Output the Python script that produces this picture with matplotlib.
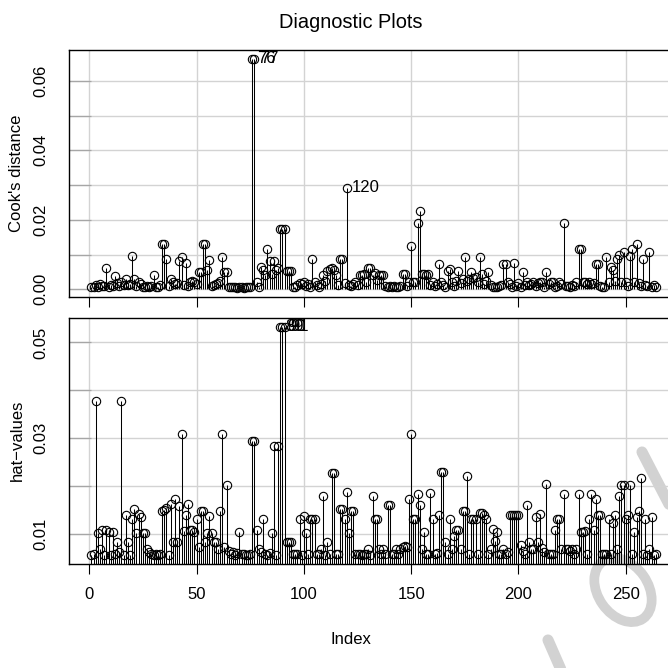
import matplotlib
matplotlib.use("Agg")
import matplotlib.pyplot as plt
from matplotlib.patches import Ellipse
from matplotlib.lines import Line2D
import numpy as np

plt.rcParams['font.family'] = ['Liberation Sans', 'DejaVu Sans']

# Cook's distance per observation (index 1..264)
cooks_d = [
    0.0006, 0.0008, 0.0012, 0.0007, 0.0015, 0.0009, 0.0010, 0.0060, 0.0008, 0.0012,
    0.0010, 0.0039, 0.0018, 0.0009, 0.0022, 0.0013, 0.0030, 0.0011, 0.0016, 0.0096,
    0.0030, 0.0010, 0.0020, 0.0014, 0.0008, 0.0006, 0.0009, 0.0007, 0.0010, 0.0041,
    0.0008, 0.0006, 0.0012, 0.0130, 0.0130, 0.0087, 0.0010, 0.0030, 0.0020, 0.0015,
    0.0018, 0.0082, 0.0094, 0.0012, 0.0075, 0.0010, 0.0022, 0.0025, 0.0020, 0.0015,
    0.0049, 0.0049, 0.0130, 0.0130, 0.0055, 0.0084, 0.0009, 0.0011, 0.0016, 0.0019,
    0.0024, 0.0092, 0.0049, 0.0049, 0.0008, 0.0006, 0.0007, 0.0006, 0.0005, 0.0006,
    0.0006, 0.0005, 0.0006, 0.0007, 0.0006, 0.0663, 0.0663, 0.0020, 0.0008, 0.0065,
    0.0055, 0.0040, 0.0116, 0.0080, 0.0045, 0.0080, 0.0055, 0.0060, 0.0173, 0.0173,
    0.0173, 0.0052, 0.0052, 0.0052, 0.0008, 0.0006, 0.0012, 0.0018, 0.0014, 0.0020,
    0.0009, 0.0016, 0.0007, 0.0088, 0.0020, 0.0012, 0.0008, 0.0014, 0.0040, 0.0024,
    0.0052, 0.0058, 0.0062, 0.0055, 0.0040, 0.0012, 0.0088, 0.0088, 0.0018, 0.0292,
    0.0012, 0.0009, 0.0015, 0.0020, 0.0011, 0.0042, 0.0040, 0.0043, 0.0020, 0.0062,
    0.0062, 0.0040, 0.0046, 0.0026, 0.0042, 0.0042, 0.0040, 0.0009, 0.0008, 0.0010,
    0.0007, 0.0009, 0.0008, 0.0006, 0.0010, 0.0043, 0.0043, 0.0009, 0.0020, 0.0125,
    0.0020, 0.0020, 0.0192, 0.0226, 0.0043, 0.0043, 0.0040, 0.0043, 0.0012, 0.0020,
    0.0009, 0.0014, 0.0073, 0.0020, 0.0012, 0.0008, 0.0052, 0.0057, 0.0020, 0.0010,
    0.0025, 0.0052, 0.0018, 0.0030, 0.0094, 0.0025, 0.0030, 0.0050, 0.0032, 0.0035,
    0.0020, 0.0094, 0.0043, 0.0016, 0.0024, 0.0050, 0.0012, 0.0008, 0.0007, 0.0006,
    0.0009, 0.0012, 0.0073, 0.0073, 0.0020, 0.0014, 0.0008, 0.0075, 0.0010, 0.0018,
    0.0007, 0.0050, 0.0013, 0.0020, 0.0012, 0.0016, 0.0020, 0.0009, 0.0017, 0.0020,
    0.0022, 0.0007, 0.0050, 0.0016, 0.0022, 0.0020, 0.0008, 0.0010, 0.0020, 0.0015,
    0.0192, 0.0010, 0.0009, 0.0007, 0.0011, 0.0010, 0.0020, 0.0115, 0.0115, 0.0020,
    0.0022, 0.0016, 0.0020, 0.0016, 0.0018, 0.0073, 0.0073, 0.0010, 0.0008, 0.0007,
    0.0094, 0.0020, 0.0065, 0.0055, 0.0024, 0.0088, 0.0100, 0.0020, 0.0106, 0.0020,
    0.0010, 0.0097, 0.0115, 0.0020, 0.0130, 0.0018, 0.0010, 0.0087, 0.0012, 0.0010,
    0.0108, 0.0008, 0.0012, 0.0006,
]

# Leverage (hat-values) per observation (index 1..264)
hat_values = [
    0.0056, 0.0058, 0.0377, 0.0102, 0.0069, 0.0108, 0.0056, 0.0108, 0.0103, 0.0056,
    0.0103, 0.0058, 0.0083, 0.0062, 0.0377, 0.0056, 0.0139, 0.0083, 0.0056, 0.0130,
    0.0151, 0.0102, 0.0142, 0.0135, 0.0102, 0.0102, 0.0069, 0.0062, 0.0057, 0.0056,
    0.0058, 0.0056, 0.0057, 0.0147, 0.0150, 0.0153, 0.0056, 0.0162, 0.0083, 0.0172,
    0.0083, 0.0158, 0.0309, 0.0105, 0.0139, 0.0162, 0.0107, 0.0108, 0.0104, 0.0130,
    0.0073, 0.0147, 0.0147, 0.0083, 0.0102, 0.0137, 0.0102, 0.0083, 0.0083, 0.0069,
    0.0147, 0.0309, 0.0072, 0.0202, 0.0065, 0.0058, 0.0062, 0.0056, 0.0060, 0.0103,
    0.0057, 0.0057, 0.0056, 0.0056, 0.0057, 0.0294, 0.0294, 0.0108, 0.0069, 0.0062,
    0.0130, 0.0058, 0.0056, 0.0060, 0.0102, 0.0284, 0.0056, 0.0284, 0.0533, 0.0533,
    0.0533, 0.0083, 0.0083, 0.0083, 0.0058, 0.0057, 0.0058, 0.0130, 0.0056, 0.0137,
    0.0102, 0.0057, 0.0132, 0.0132, 0.0132, 0.0058, 0.0057, 0.0069, 0.0179, 0.0056,
    0.0083, 0.0058, 0.0228, 0.0228, 0.0058, 0.0057, 0.0152, 0.0152, 0.0130, 0.0187,
    0.0102, 0.0147, 0.0147, 0.0058, 0.0057, 0.0058, 0.0056, 0.0057, 0.0058, 0.0069,
    0.0056, 0.0179, 0.0130, 0.0130, 0.0069, 0.0057, 0.0069, 0.0058, 0.0161, 0.0161,
    0.0058, 0.0057, 0.0069, 0.0058, 0.0069, 0.0072, 0.0074, 0.0072, 0.0172, 0.0309,
    0.0130, 0.0130, 0.0183, 0.0161, 0.0068, 0.0103, 0.0057, 0.0058, 0.0186, 0.0131,
    0.0057, 0.0060, 0.0139, 0.0230, 0.0230, 0.0083, 0.0057, 0.0130, 0.0069, 0.0095,
    0.0108, 0.0108, 0.0069, 0.0147, 0.0147, 0.0221, 0.0057, 0.0131, 0.0131, 0.0131,
    0.0058, 0.0144, 0.0144, 0.0140, 0.0131, 0.0057, 0.0069, 0.0110, 0.0086, 0.0103,
    0.0058, 0.0057, 0.0069, 0.0058, 0.0062, 0.0139, 0.0139, 0.0139, 0.0140, 0.0139,
    0.0076, 0.0065, 0.0057, 0.0160, 0.0083, 0.0069, 0.0069, 0.0135, 0.0083, 0.0142,
    0.0071, 0.0062, 0.0205, 0.0057, 0.0057, 0.0058, 0.0108, 0.0131, 0.0131, 0.0069,
    0.0183, 0.0069, 0.0069, 0.0064, 0.0069, 0.0057, 0.0069, 0.0183, 0.0103, 0.0103,
    0.0105, 0.0057, 0.0131, 0.0183, 0.0108, 0.0172, 0.0139, 0.0139, 0.0057, 0.0057,
    0.0058, 0.0131, 0.0057, 0.0122, 0.0139, 0.0069, 0.0179, 0.0203, 0.0203, 0.0131,
    0.0139, 0.0203, 0.0058, 0.0103, 0.0135, 0.0147, 0.0217, 0.0057, 0.0131, 0.0056,
    0.0069, 0.0135, 0.0056, 0.0057,
]

# Observations singled out with their index number
cook_ids = [76, 77, 120]
hat_ids = [89, 90, 91]

x_ticks = [0, 50, 100, 150, 200, 250]
cook_grid = [0.00, 0.01, 0.02, 0.03, 0.04, 0.05, 0.06]
cook_ticklabels = ["0.00", "", "0.02", "", "0.04", "", "0.06"]
hat_grid = [0.01, 0.02, 0.03, 0.04, 0.05]
hat_ticklabels = ["0.01", "", "0.03", "", "0.05"]

W = H = 668.0
fig = plt.figure(figsize=(6.68, 6.68), dpi=100)
fig.patch.set_facecolor("white")

left = 68.8 / W
width = 609.6 / W
ax_top = fig.add_axes([left, 1 - 296.7 / H, width, 246.9 / H])
ax_bot = fig.add_axes([left, 1 - 564.0 / H, width, 246.5 / H])

idx = np.arange(1, len(cooks_d) + 1)
pad_x = 0.04 * (idx[-1] - idx[0])


def padded(vals):
    lo, hi = min(vals), max(vals)
    p = 0.04 * (hi - lo)
    return lo - p, hi + p


def panel(ax, vals, grid, ticklabels, ids, ylabel, ylabel_y):
    ax.set_facecolor("none")
    ax.set_xlim(idx[0] - pad_x, idx[-1] + pad_x)
    ax.set_ylim(*padded(vals))
    for g in x_ticks:
        ax.axvline(g, color="#d3d3d3", lw=1.0, zorder=0)
    for g in grid:
        ax.axhline(g, color="#d3d3d3", lw=1.0, zorder=0)
    ax.vlines(idx, 0, vals, color="black", lw=0.75, zorder=2)
    ax.plot(idx, vals, "o", mfc="none", mec="black", ms=6.0, mew=0.8,
            zorder=3, clip_on=False)
    for i in ids:
        ax.annotate(str(i), (i, vals[i - 1]), xytext=(3.8, 0),
                    textcoords="offset points", ha="left", va="center",
                    fontsize=12, zorder=4)
    ax.set_xticks(x_ticks)
    ax.set_yticks(grid)
    ax.set_yticklabels(ticklabels, rotation=90, va="center")
    ax.tick_params(axis="y", direction="in", length=15.8, width=0.9,
                   color="#a6a6a6", pad=15.0, labelsize=12)
    ax.tick_params(axis="x", direction="out", length=7.2, width=0.8,
                   color="black", pad=9.5, labelsize=12)
    for s in ax.spines.values():
        s.set_linewidth(1.0)
        s.set_color("black")
    fig.text(17 / W, ylabel_y, ylabel, rotation=90, ha="center",
             va="center", fontsize=12)


panel(ax_top, cooks_d, cook_grid, cook_ticklabels, cook_ids,
      "Cook's distance", 1 - 173.3 / H)
panel(ax_bot, hat_values, hat_grid, hat_ticklabels, hat_ids,
      "hat\u2212values", 1 - 440.6 / H)
ax_top.tick_params(axis="x", labelbottom=False)

fig.text(351 / W, 1 - 22 / H, "Diagnostic Plots", ha="center", va="center",
         fontsize=14.4)
fig.text(351 / W, 1 - 640 / H, "Index", ha="center", va="center",
         fontsize=12)

# Faint grey stamp strokes in the lower-right corner, kept under the plots
stamp = "#d2d2d2"


def px(x, y):
    return x / W, 1 - y / H


ring = Ellipse(px(623, 590), 50 / W, 70 / H, angle=35, fill=False,
               edgecolor=stamp, lw=7, transform=fig.transFigure, zorder=-1)
fig.add_artist(ring)
for (x0, y0), (x1, y1) in [((642, 452), (672, 510)),
                           ((548, 640), (562, 672))]:
    a, b = px(x0, y0)
    c, d = px(x1, y1)
    fig.add_artist(Line2D([a, c], [b, d], color=stamp, lw=8,
                          solid_capstyle="round", transform=fig.transFigure,
                          zorder=-1))

fig.savefig("out.png", dpi=100)
